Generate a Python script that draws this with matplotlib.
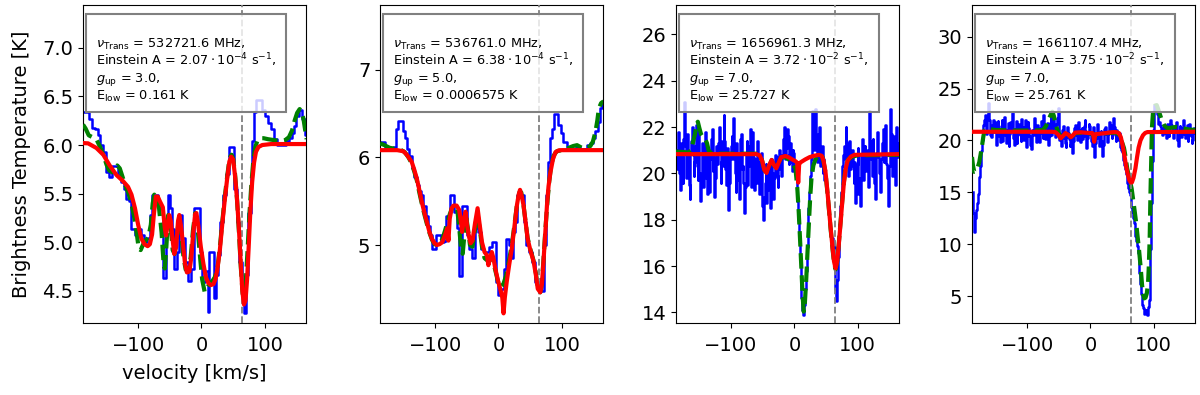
import numpy as np
import matplotlib.pyplot as plt
from matplotlib.patches import Rectangle

# ---- panel 1 : 532721.6 MHz ----
v1_obs = [-187, -179, -175, -171, -166, -161, -158, -153, -148, -143, -140, -135, -129, -124, -120, -117,
          -113, -108, -103, -98, -93, -88, -83, -79, -76, -71, -66, -62, -58, -55, -52, -49, -45, -41, -37,
          -33, -28, -23, -19, -14, -10, -5, -1, 4, 8, 11, 14, 18, 21, 24, 28, 32, 37, 41, 45, 50, 54, 58,
          62, 66, 69, 72, 76, 79, 82, 85, 88, 93, 98, 103, 108, 113, 117, 122, 127, 131, 135, 140, 145,
          148, 151, 156, 161, 165]
t1_obs = [6.34, 6.34, 6.27, 6.18, 6.16, 6.10, 6.00, 5.93, 5.72, 5.67, 5.78, 5.78, 5.69, 5.62, 5.55, 5.45,
          5.42, 5.14, 5.07, 5.14, 5.07, 5.00, 5.04, 5.28, 5.49, 5.49, 5.38, 5.35, 4.63, 5.20, 5.49, 5.35,
          5.14, 4.73, 4.90, 5.28, 5.04, 4.80, 4.60, 4.73, 5.35, 5.35, 4.90, 4.59, 4.70, 4.28, 4.90, 4.90,
          4.43, 4.66, 4.87, 5.21, 5.49, 5.70, 5.98, 5.98, 5.55, 5.21, 4.80, 4.46, 4.27, 4.66, 5.30, 5.66,
          6.04, 6.34, 6.46, 6.46, 6.36, 6.30, 6.23, 6.16, 6.06, 6.00, 6.00, 6.00, 6.04, 6.07, 6.12, 6.20,
          6.30, 6.36, 6.27, 6.10]
v1_fit = [-187, -183, -178, -172, -166, -160, -155, -150, -146, -141, -137, -133, -129, -125, -120, -115,
          -110, -106, -102, -99, -96, -92, -88, -84, -80, -77, -74.5, -71, -67, -63, -60, -58, -55.5, -52.5,
          -49, -45.5, -42.5, -39, -35.5, -32, -28.5, -25, -21, -17, -13.5, -10, -6.5, -3, 1, 5, 9, 13, 17,
          21, 25, 29, 33, 37, 41, 44.5, 47.5, 50, 53, 56, 59, 62, 65, 67.5, 70, 73, 76, 79, 82, 85, 88, 92,
          98, 105, 115, 125, 132, 138, 143, 147, 151, 155, 158, 161, 164, 166]
t1_fit = [6.21, 6.17, 6.10, 6.08, 6.06, 5.98, 5.90, 5.80, 5.74, 5.72, 5.76, 5.79, 5.76, 5.68, 5.58, 5.50,
          5.38, 5.25, 5.08, 4.93, 4.92, 4.98, 5.02, 5.05, 5.18, 5.40, 5.49, 5.44, 5.35, 5.10, 4.80, 4.73,
          4.95, 5.28, 5.20, 4.92, 4.88, 5.05, 5.25, 5.10, 4.85, 4.72, 4.70, 4.85, 5.12, 5.30, 5.18, 4.90,
          4.62, 4.49, 4.53, 4.58, 4.60, 4.64, 4.72, 4.95, 5.22, 5.48, 5.70, 5.87, 5.90, 5.86, 5.70, 5.45,
          5.12, 4.75, 4.47, 4.44, 4.60, 4.95, 5.32, 5.62, 5.85, 5.98, 6.04, 6.07, 6.07, 6.06, 6.05, 6.04,
          6.05, 6.08, 6.15, 6.25, 6.33, 6.37, 6.34, 6.27, 6.14, 6.06]
v1_mod = [-187, -179, -166, -155, -145, -134, -124, -116, -110.5, -105, -100, -95, -90, -85, -81.5, -78,
          -75, -72, -69, -65.6, -61, -58, -56, -53, -51, -48.5, -46, -43, -40, -37, -35, -32, -29, -26, -23,
          -19, -16, -13, -10, -8, -5, -1, 3, 7, 11, 15, 19, 22, 25, 29, 33, 37, 41, 44, 47, 50, 53, 56, 59,
          62, 64.5, 67, 69.5, 72, 74.5, 77, 80, 83, 86, 90, 96, 110, 166]
t1_mod = [6.02, 6.017, 5.97, 5.90, 5.79, 5.69, 5.63, 5.57, 5.49, 5.35, 5.18, 5.04, 4.98, 4.96, 4.98, 5.08,
          5.30, 5.47, 5.47, 5.42, 5.36, 5.15, 5.07, 5.20, 5.28, 5.22, 5.05, 4.88, 4.95, 5.22, 5.28, 5.15,
          4.97, 4.78, 4.69, 4.70, 4.85, 5.10, 5.29, 5.30, 5.17, 4.95, 4.78, 4.64, 4.58, 4.56, 4.57, 4.62,
          4.72, 4.92, 5.20, 5.45, 5.68, 5.83, 5.88, 5.85, 5.68, 5.45, 5.15, 4.78, 4.50, 4.36, 4.40, 4.62,
          4.95, 5.30, 5.62, 5.82, 5.93, 5.98, 6.00, 6.01, 6.01]

# ---- panel 2 : 536761.0 MHz ----
v2_obs = [-187, -182, -177, -172, -168, -164, -160, -156, -152, -150, -146, -142, -139, -135, -131, -127,
          -124, -120, -117, -113, -110, -107, -104, -100, -97, -92, -88, -84, -81, -78, -75, -71, -68, -64,
          -60, -56, -52, -48, -44, -40, -35, -30, -26, -21, -17, -13, -9, -5, -2, 2, 6, 10, 14, 18, 21, 25,
          28, 32, 37, 42, 46, 50, 55, 60, 65, 70, 73, 77, 80, 83, 86, 89, 93, 96, 100, 105, 110, 115, 120,
          125, 131, 136, 142, 147, 151, 155, 158, 161, 165]
t2_obs = [6.18, 6.18, 6.12, 6.10, 6.10, 6.12, 6.33, 6.41, 6.42, 6.30, 6.22, 6.10, 6.02, 5.88, 5.78, 5.68,
          5.62, 5.57, 5.45, 5.33, 5.22, 5.12, 4.96, 4.96, 5.11, 5.11, 5.03, 5.05, 5.33, 5.33, 5.57, 5.57,
          5.38, 5.19, 4.65, 5.45, 5.45, 5.11, 4.96, 4.85, 5.19, 5.15, 4.96, 4.92, 4.92, 4.98, 5.03, 5.03,
          4.58, 4.43, 4.50, 4.73, 5.07, 5.00, 4.85, 5.15, 5.26, 5.57, 5.57, 5.26, 5.00, 4.92, 4.81, 4.58,
          4.58, 4.47, 5.00, 5.57, 5.95, 6.22, 6.33, 6.50, 6.50, 6.37, 6.28, 6.18, 6.10, 6.10, 6.10, 6.12,
          6.10, 6.10, 6.14, 6.16, 6.22, 6.30, 6.40, 6.56, 6.63]
v2_fit = [-187, -180, -172, -165, -155, -148, -142, -137, -133, -129, -125, -121, -117, -113, -109, -105,
          -101, -97, -93, -89, -85, -81, -77, -73, -69, -65, -62, -59, -56.5, -54, -51.5, -48.5, -45, -41,
          -37, -33.5, -30, -26, -22, -17, -12, -8, -4, 0, 4, 8, 12, 16, 21, 25, 29, 33, 36, 39.6, 43, 46,
          50, 55, 59, 62, 66, 68.5, 71, 74, 77, 80, 83, 87, 92, 98, 104, 111, 118, 124, 129, 134, 140, 145,
          149, 153, 156, 158.5, 162, 166]
t2_fit = [6.16, 6.14, 6.11, 6.10, 6.09, 6.06, 6.00, 5.93, 5.84, 5.74, 5.60, 5.47, 5.35, 5.24, 5.14, 5.06,
          5.01, 5.00, 5.02, 5.06, 5.15, 5.25, 5.35, 5.43, 5.46, 5.40, 5.20, 4.95, 4.90, 5.10, 5.35, 5.20,
          5.00, 4.98, 5.18, 5.38, 5.20, 4.98, 4.85, 4.82, 4.86, 4.80, 4.68, 4.56, 4.52, 4.56, 4.65, 4.80,
          5.00, 5.22, 5.45, 5.60, 5.60, 5.45, 5.25, 5.08, 4.96, 4.83, 4.68, 4.52, 4.46, 4.56, 4.83, 5.17,
          5.47, 5.72, 5.90, 6.02, 6.07, 6.08, 6.09, 6.11, 6.13, 6.14, 6.12, 6.10, 6.11, 6.13, 6.18, 6.29,
          6.42, 6.56, 6.62, 6.64]
v2_mod = [-187, -160, -150, -144.7, -140, -137, -133, -129, -125, -121, -117, -113, -109, -105, -101, -97,
          -93, -89, -85, -81, -79, -77, -74, -71, -66, -62, -59, -57.5, -55, -52, -49.5, -47, -44, -41, -37,
          -33, -30, -26, -22, -18, -16, -13, -10.6, -8, -5, -1, 2.7, 6, 8, 10, 13, 17, 21, 25, 29, 32, 34,
          37, 39.6, 43, 46, 50, 55.5, 59, 62, 66, 68.5, 71, 74, 76.5, 79, 82, 86, 90, 95, 100, 166]
t2_mod = [6.083, 6.083, 6.07, 6.03, 5.98, 5.95, 5.86, 5.76, 5.63, 5.49, 5.37, 5.26, 5.15, 5.07, 5.02, 5.00,
          5.01, 5.03, 5.10, 5.19, 5.05, 5.30, 5.42, 5.45, 5.45, 5.40, 5.25, 5.15, 5.28, 5.38, 5.22, 5.11,
          5.02, 5.05, 5.25, 5.42, 5.25, 5.03, 4.92, 4.88, 4.77, 4.85, 4.92, 4.85, 4.73, 4.60, 4.50, 4.40,
          4.22, 4.40, 4.58, 4.78, 4.96, 5.20, 5.45, 5.58, 5.63, 5.55, 5.45, 5.25, 5.07, 4.95, 4.81, 4.66,
          4.50, 4.46, 4.55, 4.81, 5.15, 5.45, 5.67, 5.83, 5.98, 6.06, 6.08, 6.083, 6.083]

# ---- panel 3 : 1656961.3 MHz (channels every 1.25 km/s from -186) ----
t3_obs = [20.2, 21.0, 21.8, 20.5, 20.0, 19.3, 21.3, 20.7, 19.6, 21.5, 23.1, 21.2, 20.4, 19.8, 21.7, 20.9,
          19.5, 18.9, 20.9, 21.4, 22.0, 20.8, 19.9, 20.5, 21.2, 22.1, 20.3, 19.7, 21.9, 20.0, 18.8, 19.9,
          20.6, 21.3, 19.4, 20.2, 21.0, 21.8, 19.8, 19.1, 20.9, 20.1, 19.2, 20.6, 21.5, 21.9, 20.1, 20.7,
          19.0, 19.8, 21.2, 20.6, 20.4, 21.3, 22.0, 20.9, 19.6, 20.5, 21.4, 20.3, 22.5, 21.4, 20.2, 19.5,
          21.1, 19.9, 18.4, 19.6, 20.7, 21.2, 21.6, 20.6, 22.4, 21.0, 20.0, 19.2, 21.3, 20.8, 19.7, 18.9,
          20.8, 21.5, 21.7, 20.2, 20.3, 19.6, 18.3, 19.4, 20.9, 21.4, 19.5, 20.3, 21.2, 21.9, 20.0, 19.4,
          21.8, 20.7, 19.3, 20.0, 20.6, 19.6, 21.4, 20.5, 19.8, 19.1, 20.5, 20.9, 19.2, 18.6, 18.0, 19.0,
          19.6, 20.4, 18.7, 19.3, 20.3, 19.7, 19.0, 18.5, 20.6, 20.0, 18.9, 19.5, 19.8, 20.8, 20.7, 19.9,
          19.4, 20.2, 21.0, 20.4, 19.9, 20.6, 20.8, 21.5, 22.0, 21.2, 20.6, 21.1, 21.9, 21.6, 20.4, 20.8,
          21.3, 20.5, 20.1, 21.0, 20.9, 20.3, 20.0, 19.8, 19.4, 18.8, 18.0, 17.2, 16.3, 15.3, 14.6, 14.1,
          13.9, 14.0, 14.3, 15.0, 15.8, 16.8, 17.6, 18.5, 19.2, 19.9, 20.6, 21.8, 22.7, 21.5, 21.0, 22.8,
          22.4, 21.3, 20.5, 21.7, 22.0, 21.1, 20.3, 20.9, 21.2, 20.0, 20.6, 19.7, 19.8, 19.3, 19.0, 18.9,
          18.4, 18.0, 17.6, 17.3, 17.2, 17.2, 17.1, 16.8, 16.2, 15.0, 14.5, 15.4, 16.4, 17.1, 17.8, 18.6,
          19.2, 19.8, 20.3, 20.8, 21.2, 20.6, 22.0, 21.3, 20.5, 19.9, 21.4, 20.8, 20.2, 20.7, 21.0, 20.3,
          19.6, 20.5, 18.7, 19.4, 20.4, 21.1, 19.1, 19.8, 18.6, 19.5, 20.8, 21.5, 19.7, 20.4, 21.2, 20.1,
          20.3, 21.0, 19.4, 20.0, 22.7, 21.4, 20.6, 19.9, 21.5, 20.8, 19.6, 18.9, 20.9, 21.6, 21.8, 20.7,
          20.0, 19.5, 19.2, 20.6, 21.3, 21.9, 20.5, 21.2, 22.1, 20.4, 19.8, 19.2, 18.6, 20.3, 22.8, 21.7,
          20.4, 19.9, 21.6, 20.5, 19.5, 21.1, 22.0, 21.3, 20.7]
v3_fit = [-187, -175, -167.5, -163, -160, -157, -154.5, -152.5, -150, -147.5, -144, -141, -138, -135.5,
          -132, -125, -60, -55, -51, -47.5, -44, -40.5, -36, -32, -28.5, -25, -21, -14, -9, -4, 1.6, 4.5,
          6.8, 9, 11, 13, 14.7, 16.5, 18.5, 20.5, 23, 25, 27, 30, 33.3, 37, 41, 44, 46, 49, 51.5, 54, 57,
          59.8, 62.5, 65, 67.5, 70, 73, 75.6, 78, 81, 85, 91.5, 100, 166]
t3_fit = [20.94, 20.92, 20.90, 21.00, 21.35, 21.70, 22.10, 22.23, 21.95, 21.70, 21.55, 21.50, 21.30, 21.00,
          20.88, 20.85, 20.85, 20.78, 20.55, 20.15, 20.02, 20.30, 20.55, 20.35, 20.22, 20.45, 20.68, 20.70,
          20.60, 20.45, 20.22, 19.40, 18.35, 17.10, 15.90, 14.70, 14.03, 14.40, 15.33, 16.50, 17.92, 19.00,
          19.80, 20.35, 20.60, 20.75, 20.80, 20.72, 20.50, 20.05, 19.35, 18.60, 17.65, 16.85, 16.15, 15.85,
          16.20, 16.95, 17.95, 18.85, 19.60, 20.30, 20.60, 20.72, 20.78, 20.80]
v3_mod = [-187, -60, -55, -51, -47.5, -44, -40.5, -36, -32, -28.5, -25, -21, -14, -8, -3.5, 2, 4.5, 6, 7.5,
          10, 17, 24, 31, 38.5, 43, 46, 49, 51.5, 54, 57, 59.8, 62.5, 65, 67.5, 70, 73, 75.6, 78, 81, 84,
          89, 95, 166]
t3_mod = [20.83, 20.83, 20.78, 20.55, 20.15, 20.02, 20.30, 20.58, 20.35, 20.22, 20.45, 20.70, 20.75, 20.68,
          20.60, 20.52, 20.45, 19.60, 20.40, 20.48, 20.60, 20.70, 20.76, 20.80, 20.76, 20.55, 20.08, 19.40,
          18.64, 17.70, 16.90, 16.20, 15.90, 16.20, 16.90, 17.90, 18.78, 19.55, 20.20, 20.55, 20.72, 20.80,
          20.83]

# ---- panel 4 : 1661107.4 MHz (channels every 1.25 km/s from -186) ----
t4_obs = [15.0, 13.0, 11.2, 11.8, 12.5, 13.3, 14.0, 14.8, 15.6, 16.5, 17.5, 19.0, 20.0, 20.8, 21.5, 22.0,
          22.4, 21.3, 20.6, 22.2, 23.6, 22.0, 21.2, 20.5, 20.3, 21.5, 22.0, 21.0, 20.8, 21.8, 19.6, 20.7,
          21.9, 21.1, 20.4, 19.8, 21.4, 22.0, 19.9, 20.8, 22.3, 21.4, 20.5, 19.7, 21.0, 21.7, 19.5, 20.6,
          21.8, 20.9, 22.6, 21.2, 20.2, 19.6, 21.1, 21.9, 19.7, 20.5, 21.6, 21.0, 20.6, 19.9, 22.1, 21.3,
          20.0, 20.8, 21.3, 22.0, 19.4, 20.4, 21.8, 21.2, 20.4, 19.6, 19.2, 20.1, 21.0, 20.5, 22.2, 21.4,
          20.3, 19.8, 21.5, 20.9, 19.8, 20.6, 21.2, 21.9, 20.7, 20.2, 22.4, 21.1, 20.1, 20.7, 21.0, 21.7,
          19.6, 20.4, 21.7, 22.3, 20.5, 21.2, 22.0, 21.5, 20.8, 20.3, 21.6, 22.2, 23.1, 21.0, 20.0, 20.6,
          19.5, 20.2, 21.0, 21.4, 20.2, 19.7, 19.4, 20.3, 21.3, 20.7, 20.1, 19.5, 19.6, 20.4, 18.8, 19.9,
          20.9, 21.2, 21.5, 20.5, 20.0, 20.8, 21.8, 21.0, 19.8, 20.5, 21.2, 20.1, 20.4, 21.4, 22.0, 20.9,
          19.3, 20.2, 20.7, 21.6, 21.4, 20.6, 19.9, 19.5, 20.8, 21.3, 18.4, 19.7, 20.2, 21.0, 21.6, 20.3,
          19.5, 20.8, 20.9, 19.9, 18.5, 19.6, 20.4, 21.1, 21.3, 20.6, 19.8, 20.2, 20.6, 21.8, 21.5, 20.8,
          20.2, 21.0, 22.2, 21.3, 20.5, 19.9, 21.0, 20.4, 20.0, 20.7, 19.6, 19.4, 19.1, 18.9, 18.6, 18.1,
          17.6, 17.2, 16.8, 16.3, 15.9, 15.4, 15.0, 14.7, 14.2, 13.6, 13.1, 12.5, 12.0, 11.4, 10.8, 10.3,
          9.8, 9.1, 8.4, 7.2, 6.2, 5.2, 4.5, 4.1, 3.8, 3.3, 3.4, 3.7, 3.5, 3.2, 3.9, 4.6, 6.0, 9.5, 14.0,
          18.0, 21.0, 22.6, 23.4, 23.0, 22.9, 22.5, 22.3, 21.6, 21.8, 21.4, 21.0, 20.8, 20.5, 21.2, 21.3,
          20.9, 20.7, 20.2, 21.6, 21.0, 20.4, 21.3, 22.0, 21.5, 21.0, 20.6, 20.2, 20.9, 21.3, 21.8, 20.6,
          20.0, 19.5, 20.5, 21.4, 20.8, 20.3, 21.2, 22.0, 21.4, 20.6, 20.2, 21.0, 21.5, 19.9, 20.5, 21.6,
          20.9, 20.4, 19.7, 20.0, 20.7, 21.2]
v4_fit = [-187, -185.5, -183.5, -181, -178, -175.5, -173, -171, -169, -167, -164, -160, -150, -120, -90,
          -75, -70, -67.5, -65.5, -62.5, -60, -57.5, -54.6, -52, -50, -47, -43, -39.5, -35, -31, -27.5, -24,
          -15, -5, 3, 5.9, 8.5, 20, 30, 40, 46, 49.5, 53, 55.5, 58, 61.5, 65, 68.5, 72, 74.5, 77, 79.5,
          81.5, 83.5, 85, 87, 89, 91, 92, 93.5, 94.7, 96, 97, 98.5, 99.4, 102, 104.6, 107, 110, 113, 117,
          121, 125, 130, 135.5, 141, 146, 156, 166]
t4_fit = [18.4, 17.6, 16.97, 17.0, 17.4, 17.9, 18.8, 19.55, 20.40, 21.00, 21.16, 21.10, 21.00, 20.95, 20.95,
          21.00, 21.40, 21.80, 22.10, 22.50, 22.76, 22.30, 21.40, 21.00, 20.70, 20.25, 20.45, 20.68, 20.55,
          20.32, 20.48, 20.70, 20.72, 20.68, 20.66, 20.20, 20.58, 20.66, 20.72, 20.74, 20.50, 19.90, 19.26,
          18.40, 17.30, 16.30, 15.37, 13.80, 12.15, 10.70, 9.26, 7.60, 6.05, 5.10, 4.77, 4.85, 5.25, 6.30,
          7.66, 10.50, 14.70, 18.20, 21.16, 22.50, 23.09, 23.35, 23.40, 23.00, 22.44, 21.90, 21.40, 21.20,
          21.20, 21.25, 21.30, 21.25, 21.16, 21.05, 21.00]
v4_mod = [-187, -60, -55, -51, -47, -43, -39.5, -35, -31, -27.5, -24, -15, -5, 3, 4.5, 5.9, 7.2, 8.5, 16,
          23.6, 30, 37.5, 42, 45, 48, 50.7, 53.5, 56, 58.5, 61.3, 63.5, 65.5, 68, 71, 73.5, 76, 79, 83,
          86.5, 90, 166]
t4_mod = [20.83, 20.83, 20.78, 20.55, 20.20, 20.45, 20.70, 20.55, 20.30, 20.50, 20.75, 20.78, 20.72, 20.70,
          20.50, 19.87, 20.50, 20.60, 20.65, 20.70, 20.76, 20.80, 20.78, 20.70, 20.30, 19.55, 18.60, 17.62,
          16.85, 16.17, 15.95, 15.95, 16.40, 17.30, 18.35, 19.30, 20.00, 20.50, 20.72, 20.80, 20.83]

# channel grid of the two noisy spectra
v3_obs = -186 + 1.25 * np.arange(len(t3_obs))
v4_obs = -186 + 1.25 * np.arange(len(t4_obs))

labels = [
    [r"$\nu_{\rm Trans}$ = 532721.6 MHz,", r"Einstein A = $2.07\cdot10^{-4}$ s$^{-1}$,",
     r"$g_{\rm up}$ = 3.0,", r"E$_{\rm low}$ = 0.161 K"],
    [r"$\nu_{\rm Trans}$ = 536761.0 MHz,", r"Einstein A = $6.38\cdot10^{-4}$ s$^{-1}$,",
     r"$g_{\rm up}$ = 5.0,", r"E$_{\rm low}$ = 0.0006575 K"],
    [r"$\nu_{\rm Trans}$ = 1656961.3 MHz,", r"Einstein A = $3.72\cdot10^{-2}$ s$^{-1}$,",
     r"$g_{\rm up}$ = 7.0,", r"E$_{\rm low}$ = 25.727 K"],
    [r"$\nu_{\rm Trans}$ = 1661107.4 MHz,", r"Einstein A = $3.75\cdot10^{-2}$ s$^{-1}$,",
     r"$g_{\rm up}$ = 7.0,", r"E$_{\rm low}$ = 25.761 K"],
]
v_sys = 64.0
ylims = [(4.17, 7.44), (4.11, 7.74), (13.54, 27.27), (2.4, 33.05)]
yticks = [[4.5, 5.0, 5.5, 6.0, 6.5, 7.0], [5, 6, 7], [14, 16, 18, 20, 22, 24, 26], [5, 10, 15, 20, 25, 30]]

obs = [(v1_obs, t1_obs), (v2_obs, t2_obs), (v3_obs, t3_obs), (v4_obs, t4_obs)]
fit = [(v1_fit, t1_fit), (v2_fit, t2_fit), (v3_fit, t3_fit), (v4_fit, t4_fit)]
mod = [(v1_mod, t1_mod), (v2_mod, t2_mod), (v3_mod, t3_mod), (v4_mod, t4_mod)]

plt.rcParams['font.size'] = 14
fig = plt.figure(figsize=(12, 3.95), dpi=100)
lefts = [0.0692, 0.3167, 0.5633, 0.81]

for i in range(4):
    ax = fig.add_axes([lefts[i], 0.1823, 0.1858, 0.8051])
    ax.plot(obs[i][0], obs[i][1], color='blue', lw=1.8, drawstyle='steps-mid', zorder=2)
    ax.plot(fit[i][0], fit[i][1], color='green', lw=3, ls='--', zorder=3)
    ax.axvline(v_sys, color='grey', lw=1.3, ls='--', zorder=3.5)
    ax.plot(mod[i][0], mod[i][1], color='red', lw=3, zorder=4)
    ax.set_xlim(-187, 165)
    ax.set_ylim(*ylims[i])
    ax.set_xticks([-100, 0, 100])
    ax.set_yticks(yticks[i])
    ax.tick_params(axis='x', pad=6)
    ax.add_patch(Rectangle((0.013, 0.664), 0.897, 0.308, transform=ax.transAxes,
                           facecolor=(1, 1, 1, 0.8), edgecolor='0.5', lw=1.5, zorder=5))
    for k, s in enumerate(labels[i]):
        ax.text(0.06, 0.866 - 0.0545 * k, s, transform=ax.transAxes, fontsize=9.3,
                va='baseline', ha='left', zorder=6)
    if i == 0:
        ax.set_ylabel('Brightness Temperature [K]', labelpad=8)
        ax.set_xlabel('velocity [km/s]', labelpad=6)

fig.savefig('out.png', dpi=100)
